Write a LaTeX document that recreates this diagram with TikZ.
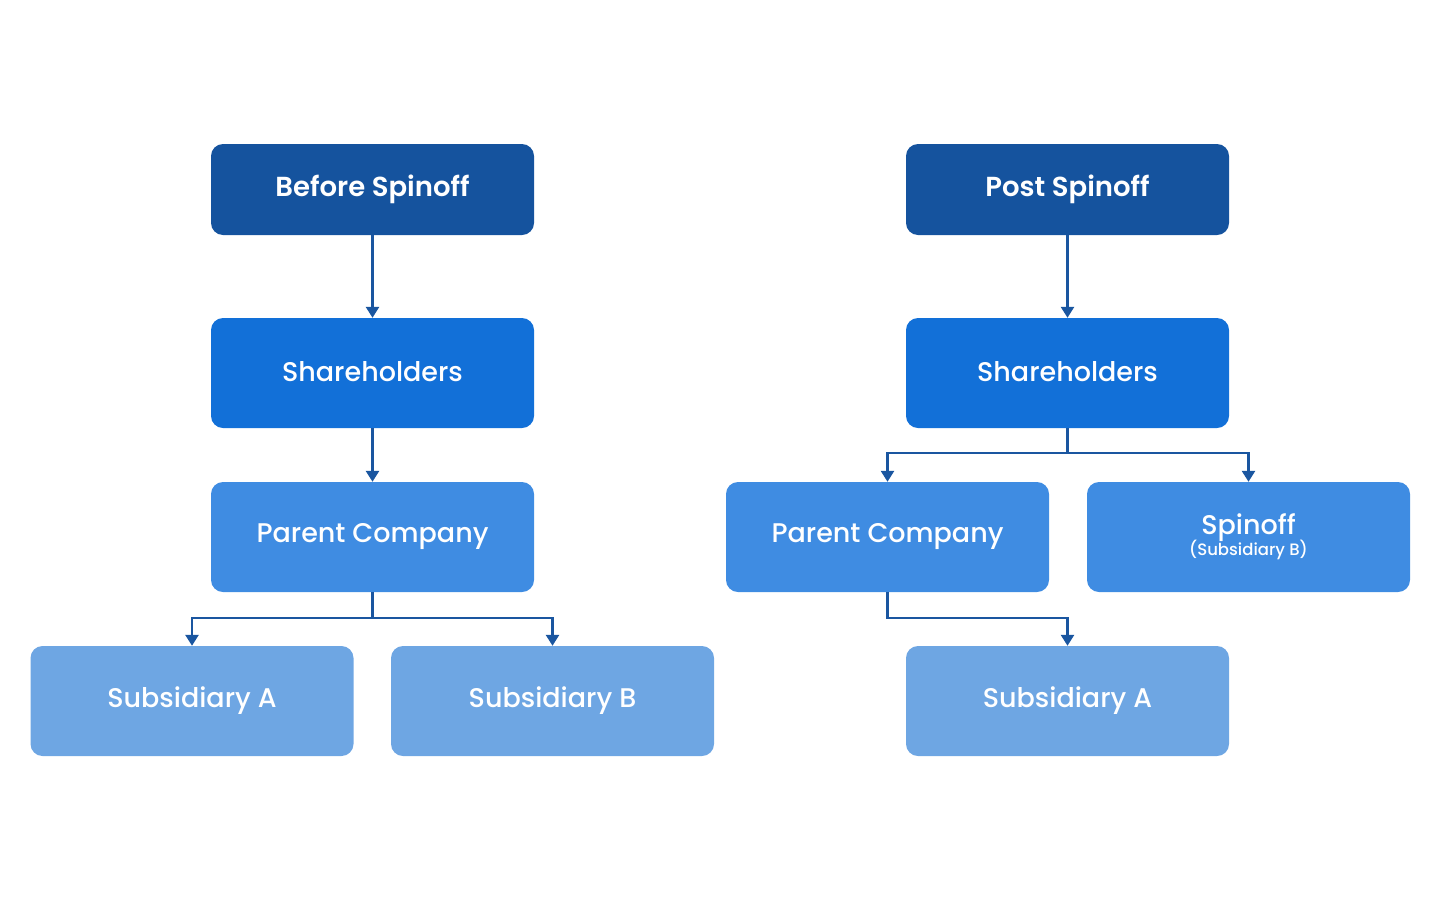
\documentclass[tikz,border=0pt]{standalone}
\usepackage{fontspec}
\setmainfont{Poppins}
\newfontfamily\pmed{Poppins Medium}
\newfontfamily\psemi{Poppins SemiBold}
\usetikzlibrary{arrows.meta}
\definecolor{cTop}{HTML}{15539E}
\definecolor{cSh}{HTML}{1270D8}
\definecolor{cPar}{HTML}{3F8CE2}
\definecolor{cSub}{HTML}{6EA6E3}
\definecolor{cLine}{HTML}{1A56A0}
\tikzset{
  box/.style={rounded corners=12pt, minimum width=323pt, minimum height=110pt, inner sep=0pt, text=white, font=\pmed\fontsize{27}{30}\selectfont, align=center},
  topbox/.style={box, fill=cTop, minimum height=91pt, font=\psemi\fontsize{27.5}{30}\selectfont},
  shbox/.style={box, fill=cSh},
  parbox/.style={box, fill=cPar},
  subbox/.style={box, fill=cSub},
  conn/.style={draw=cLine, line width=2.6pt, -{Triangle[length=11pt,width=13pt]}}
}
\begin{document}
\begin{tikzpicture}[x=1pt,y=-1pt]
\useasboundingbox (0,0) rectangle (1440,900);
% left
\node[topbox] (bs) at (372.5,189.5) {\raisebox{5pt}{Before Spinoff}};
\node[shbox] (sh1) at (372.5,373) {\raisebox{2pt}{Shareholders}};
\node[parbox] (pc1) at (372.5,537) {\raisebox{-1pt}{Parent Company}};
\node[subbox] (sa1) at (192,701) {\raisebox{-1pt}{Subsidiary A}};
\node[subbox] (sb1) at (552.5,701) {\raisebox{-1pt}{Subsidiary B}};
% right
\node[topbox] (ps) at (1067.5,189.5) {\raisebox{5pt}{Post Spinoff}};
\node[shbox] (sh2) at (1067.5,373) {\raisebox{2pt}{Shareholders}};
\node[parbox] (pc2) at (887.5,537) {\raisebox{-1pt}{Parent Company}};
\node[parbox] (sp) at (1248.5,537) {Spinoff\\[-9pt]{\fontsize{16.5}{18}\selectfont(Subsidiary B)}};
\node[subbox] (sa2) at (1067.5,701) {\raisebox{-1pt}{Subsidiary A}};
% connectors left
\draw[conn] (bs.south) -- (sh1.north);
\draw[conn] (sh1.south) -- (pc1.north);
\coordinate (j1) at (372.5,618);
\draw[conn] (pc1.south) -- (j1) -| (sa1.north);
\draw[conn] (j1) -| (sb1.north);
% connectors right
\draw[conn] (ps.south) -- (sh2.north);
\coordinate (j2) at (1067.5,453);
\draw[conn] (sh2.south) -- (j2) -| (pc2.north);
\draw[conn] (j2) -| (sp.north);
\draw[conn] (pc2.south) |- (887.5,618) -| (sa2.north);
\end{tikzpicture}
\end{document}
